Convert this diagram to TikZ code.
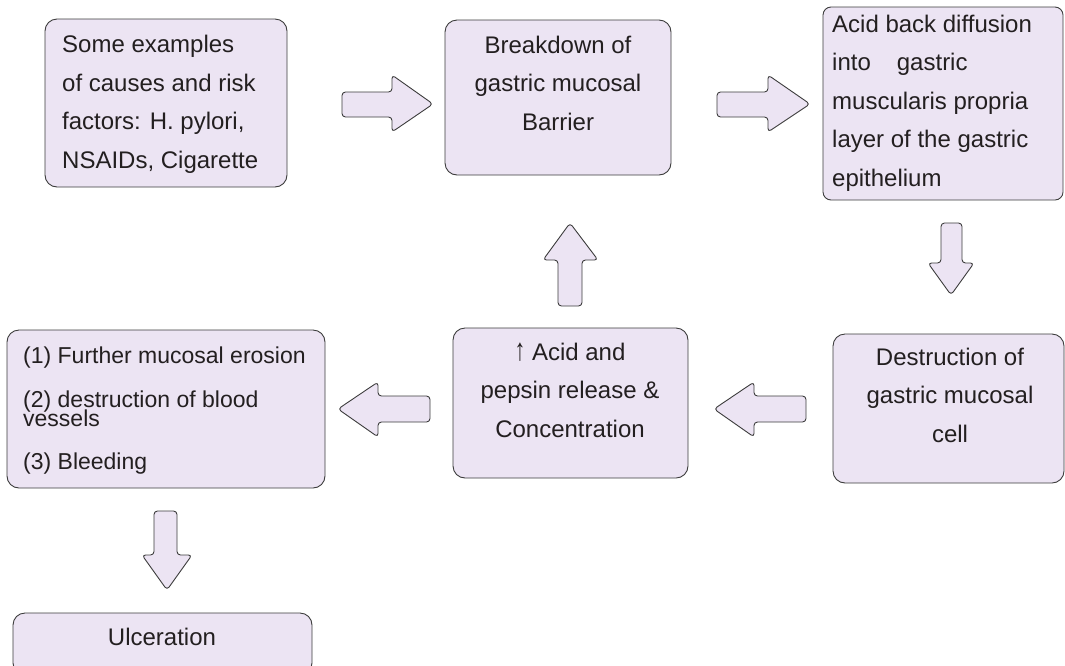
\documentclass[tikz,border=0pt]{standalone}
\usepackage{fontspec}
\setmainfont{Liberation Sans}
\definecolor{boxfill}{HTML}{ECE4F3}
\definecolor{boxline}{HTML}{3C3C3C}
\definecolor{txt}{HTML}{231F20}
\begin{document}
\begin{tikzpicture}[x=1pt,y=-1pt,
  box/.style={draw=boxline, fill=boxfill, line width=0.9pt, rounded corners=12pt, inner sep=0pt, outer sep=0pt},
  blockarrow/.style={draw=boxline, fill=boxfill, line width=0.9pt, rounded corners=3.5pt, line join=round},
  lbl/.style={inner sep=0pt, text=txt, font=\fontsize{24}{38.5}\selectfont},
  lbls/.style={inner sep=0pt, text=txt, font=\fontsize{23}{27}\selectfont, anchor=base west},
]
\useasboundingbox (0,0) rectangle (1065,665);

% boxes
\node[box, minimum width=242pt, minimum height=168pt] (b1) at (166,103) {};
\node[box, minimum width=226pt, minimum height=155pt] (b2) at (558,97.5) {};
\node[box, rounded corners=8pt, minimum width=240pt, minimum height=193pt] (b3) at (943,103.5) {};
\node[box, minimum width=231pt, minimum height=149pt] (b4) at (948.5,408.5) {};
\node[box, minimum width=235pt, minimum height=150pt] (b5) at (570.5,403) {};
\node[box, minimum width=318pt, minimum height=158pt] (b6) at (166,409) {};
\node[box, minimum width=299pt, minimum height=62pt] (b7) at (162.5,644) {};

% texts (anchor = baseline of the last line)
\node[lbl, align=left, anchor=base west] (t1) at (62,168)
  {Some examples\\of causes and risk\\factors: H. pylori,\\NSAIDs, Cigarette};
\node[lbl, align=center, anchor=base] (t2) at (558,130)
  {Breakdown of\\gastric mucosal\\Barrier};
\node[lbl, align=left, anchor=base west] (t3) at (832,186)
  {Acid back diffusion\\into\hspace{26pt}gastric\\muscularis propria\\layer of the gastric\\epithelium};
\node[lbl, align=center, anchor=base] (t4) at (950,442)
  {Destruction of\\gastric mucosal\\cell};
\node[lbl, align=center, anchor=base] (t5) at (570,437)
  {\scalebox{0.9}[1.3]{↑} Acid and\\pepsin release \&\\Concentration};
\node[lbls] (t6a) at (23,363) {(1) Further mucosal erosion};
\node[lbls] (t6b) at (23,407) {(2) destruction of blood};
\node[lbls] (t6c) at (23,426) {vessels};
\node[lbls] (t6d) at (23,469) {(3) Bleeding};
\node[lbl, anchor=base] (t7) at (162,645) {Ulceration};

% block arrows
\draw[blockarrow] (342,92) -- (392,92) -- (392,75) -- (433,104) -- (392,132) -- (392,117) -- (342,117) -- cycle;
\draw[blockarrow] (717,92) -- (768,92) -- (768,75) -- (810,104) -- (768,132) -- (768,117) -- (717,117) -- cycle;
\draw[blockarrow] (941,223) -- (962,223) -- (962,263) -- (974,263) -- (951,295) -- (928,263) -- (941,263) -- cycle;
\draw[blockarrow] (806,396) -- (754,396) -- (754,382) -- (714,409) -- (754,437) -- (754,422) -- (806,422) -- cycle;
\draw[blockarrow] (558,306) -- (558,260) -- (543,260) -- (570,223) -- (598,260) -- (582,260) -- (582,306) -- cycle;
\draw[blockarrow] (430,396) -- (378,396) -- (378,382) -- (338,409) -- (378,437) -- (378,422) -- (430,422) -- cycle;
\draw[blockarrow] (154,511) -- (177,511) -- (177,555) -- (192,555) -- (167,590) -- (142,555) -- (154,555) -- cycle;
\end{tikzpicture}
\end{document}
